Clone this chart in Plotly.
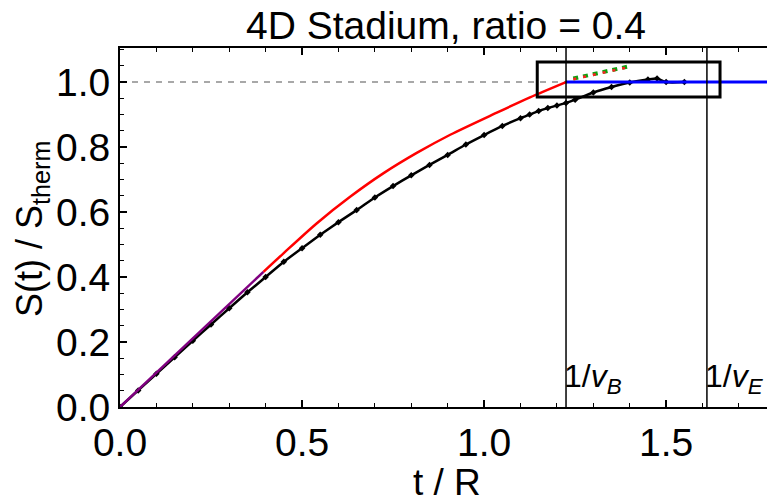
import plotly.graph_objects as go

# ---------------- data ----------------
inv_vB = 1.225
inv_vE = 1.612

purple_t = [0.0, 0.394]
purple_S = [0.0, 0.416]

red_t = [0.394, 0.449, 0.540, 0.632, 0.723, 0.815, 0.907, 1.035, 1.126, 1.225]
red_S = [0.416, 0.473, 0.565, 0.647, 0.719, 0.782, 0.838, 0.906, 0.953, 1.000]

black_t = [0.0, 0.05, 0.1, 0.15, 0.2, 0.25, 0.3, 0.35, 0.4, 0.45, 0.5, 0.55, 0.6, 0.65,
           0.7, 0.75, 0.8, 0.85, 0.9, 0.95, 1.0, 1.05, 1.1, 1.125, 1.15, 1.175, 1.2, 1.225,
           1.25, 1.3, 1.35, 1.4, 1.45, 1.475, 1.5, 1.55]
black_S = [0.0, 0.051, 0.102, 0.153, 0.204, 0.254, 0.304, 0.353, 0.400, 0.447, 0.489, 0.530,
           0.569, 0.606, 0.645, 0.680, 0.713, 0.745, 0.776, 0.808, 0.837, 0.865, 0.889, 0.900,
           0.911, 0.920, 0.928, 0.936, 0.946, 0.968, 0.985, 0.999, 1.008, 1.011, 1.000, 1.000]

blue_t = [1.225, 1.78]
blue_S = [1.0, 1.0]

green_t = [1.245, 1.400]
green_S = [1.011, 1.049]

box_t = [1.146, 1.648]
box_S = [0.954, 1.062]

x_ticks = [0.0, 0.5, 1.0, 1.5]
y_ticks = [0.0, 0.2, 0.4, 0.6, 0.8, 1.0]
x_range = [0, 1.777]
y_range = [0, 1.105]

FONT = "Arial, Liberation Sans, sans-serif"

fig = go.Figure()

# gray dashed reference at 1
fig.add_trace(go.Scatter(x=x_range, y=[1, 1], mode="lines",
                         line=dict(color="#8c8c8c", width=1.5, dash="6px,6px"),
                         hoverinfo="skip", showlegend=False))

# black numeric curve with markers
fig.add_trace(go.Scatter(x=black_t, y=black_S, mode="lines+markers",
                         line=dict(color="black", width=2.5, shape="spline", smoothing=0.6),
                         marker=dict(symbol="diamond", size=5, color="black"),
                         showlegend=False))

# red curve
fig.add_trace(go.Scatter(x=red_t, y=red_S, mode="lines",
                         line=dict(color="#ff0000", width=2.5, shape="spline", smoothing=0.8),
                         showlegend=False))

# purple linear part
fig.add_trace(go.Scatter(x=purple_t, y=purple_S, mode="lines",
                         line=dict(color="#800080", width=2.5), showlegend=False))

# blue saturation
fig.add_trace(go.Scatter(x=blue_t, y=blue_S, mode="lines",
                         line=dict(color="#0000ff", width=3), showlegend=False))

# green / red dashed segment
fig.add_trace(go.Scatter(x=green_t, y=green_S, mode="lines",
                         line=dict(color="#10a010", width=4, dash="5px,5px"), showlegend=False))
fig.add_trace(go.Scatter(x=green_t, y=[s - 0.002 for s in green_S], mode="lines",
                         line=dict(color="#ff2020", width=2.5, dash="3px,7px"), showlegend=False))

# vertical lines
for xv in (inv_vB, inv_vE):
    fig.add_shape(type="line", xref="x", yref="paper", x0=xv, x1=xv, y0=0, y1=1,
                  line=dict(color="black", width=1.5))

# zoom box
fig.add_shape(type="rect", xref="x", yref="y", x0=box_t[0], x1=box_t[1],
              y0=box_S[0], y1=box_S[1], line=dict(color="black", width=3))

# labels for the velocities
fig.add_annotation(x=inv_vB, y=0.02, xref="x", yref="y", xanchor="left", yanchor="bottom",
                   text="1/<i>v</i><sub><i>B</i></sub>", showarrow=False, xshift=-4,
                   font=dict(family=FONT, size=32, color="black"))
fig.add_annotation(x=inv_vE, y=0.02, xref="x", yref="y", xanchor="left", yanchor="bottom",
                   text="1/<i>v</i><sub><i>E</i></sub>", showarrow=False, xshift=-4,
                   font=dict(family=FONT, size=32, color="black"))

# axis titles as annotations
fig.add_annotation(x=0.505, y=-(483 - 407) / 359, xref="paper", yref="paper", text="t / R",
                   showarrow=False, xanchor="center", yanchor="middle",
                   font=dict(family=FONT, size=37, color="black"))
fig.add_annotation(x=-0.136, y=0.496, xref="paper", yref="paper",
                   text="S(t) / S<sub>therm</sub>", textangle=-90,
                   showarrow=False, xanchor="center", yanchor="middle",
                   font=dict(family=FONT, size=36, color="black"))

fig.update_layout(
    width=767, height=504,
    margin=dict(l=120, r=0, t=48, b=97),
    paper_bgcolor="white", plot_bgcolor="white",
    font=dict(family=FONT, color="black"),
    title=dict(text="4D Stadium, ratio = 0.4", x=446 / 767, y=1 - 25 / 504, xref="container",
               yref="container", xanchor="center", yanchor="middle",
               font=dict(family=FONT, size=39, color="black")),
    xaxis=dict(range=x_range, tickvals=x_ticks, ticktext=[f"{v:.1f}" for v in x_ticks],
               showgrid=False, zeroline=False, showline=True, linecolor="black",
               linewidth=2, mirror="ticks", ticks="inside", ticklen=7, tickwidth=1.5,
               tickcolor="black", tickfont=dict(family=FONT, size=39, color="black"),
               minor=dict(dtick=0.1, tick0=0, ticks="inside", ticklen=4, tickcolor="black",
                          tickwidth=1, showgrid=False)),
    yaxis=dict(range=y_range, tickvals=y_ticks, ticktext=[f"{v:.1f}" for v in y_ticks],
               showgrid=False, zeroline=False, showline=True, linecolor="black",
               linewidth=2, mirror=False, ticks="inside", ticklen=7, tickwidth=1.5,
               tickcolor="black", tickfont=dict(family=FONT, size=39, color="black"),
               minor=dict(dtick=0.05, tick0=0, ticks="inside", ticklen=4, tickcolor="black",
                          tickwidth=1, showgrid=False)),
)

fig.write_html("out.html")
